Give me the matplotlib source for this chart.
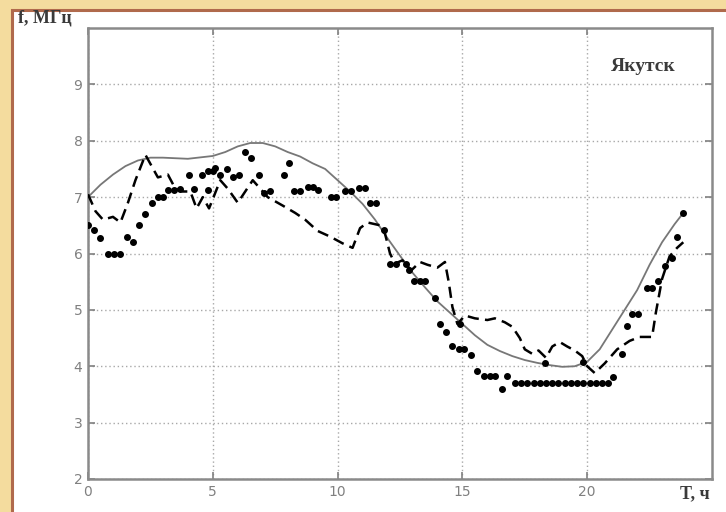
import matplotlib
matplotlib.use("Agg")
import matplotlib.pyplot as plt
from matplotlib.patches import Rectangle

# --- модельная кривая (сплошная) ---
model_t = [0, 0.5, 1, 1.5, 2, 2.5, 3, 4, 5, 5.5, 6, 6.5, 7, 7.5, 8, 8.5, 9, 9.5,
           10, 10.5, 11, 11.5, 12, 12.5, 13, 13.5, 14, 14.5, 15, 15.5, 16, 16.5,
           17, 17.5, 18, 18.5, 19, 19.5, 20, 20.5, 21, 21.5, 22, 22.5, 23, 23.5, 23.85]
model_f = [7.0, 7.22, 7.4, 7.55, 7.65, 7.7, 7.7, 7.68, 7.73, 7.8, 7.9, 7.96, 7.96,
           7.9, 7.8, 7.72, 7.6, 7.5, 7.3, 7.1, 6.88, 6.6, 6.27, 5.96, 5.66, 5.4,
           5.15, 4.95, 4.75, 4.55, 4.38, 4.27, 4.18, 4.11, 4.06, 4.02, 3.99, 4.0,
           4.08, 4.3, 4.65, 5.0, 5.35, 5.8, 6.2, 6.52, 6.72]

# --- вторая кривая (штриховая) ---
dash_t = [0.0, 0.3, 0.6, 1.0, 1.3, 1.6, 1.9, 2.3, 2.8, 3.2, 3.5, 3.8, 4.1, 4.35,
          4.6, 4.85, 5.3, 5.6, 6.0, 6.6, 7.2, 7.8, 8.3, 8.7, 9.2, 9.7, 10.2, 10.6,
          10.9, 11.2, 11.7, 11.9, 12.1, 12.3, 12.6, 12.95, 13.3, 13.6, 14.0, 14.3,
          14.45, 14.6, 14.8, 15.1, 15.5, 16.0, 16.3, 16.7, 17.0, 17.3, 17.5, 17.8,
          18.05, 18.35, 18.6, 18.9, 19.2, 19.5, 19.8, 20.0, 20.3, 20.7, 21.2, 21.7,
          22.1, 22.6, 22.75, 23.0, 23.3, 23.6, 23.85]
dash_f = [7.05, 6.75, 6.6, 6.65, 6.55, 6.9, 7.3, 7.75, 7.35, 7.4, 7.15, 7.1, 7.1,
          6.8, 7.0, 6.8, 7.3, 7.15, 6.9, 7.3, 7.0, 6.85, 6.72, 6.6, 6.4, 6.3, 6.18,
          6.1, 6.45, 6.55, 6.5, 6.35, 6.0, 5.82, 5.88, 5.7, 5.85, 5.8, 5.75, 5.85,
          5.5, 5.05, 4.75, 4.9, 4.85, 4.82, 4.85, 4.78, 4.7, 4.5, 4.3, 4.22, 4.28,
          4.15, 4.35, 4.43, 4.35, 4.28, 4.18, 4.0, 3.88, 4.05, 4.3, 4.45, 4.52,
          4.52, 4.95, 5.55, 5.95, 6.1, 6.2]

# --- измерения (точки) ---
obs_t = [0.0, 0.25, 0.5, 0.8, 1.05, 1.3, 1.55, 1.8, 2.05, 2.3, 2.55, 2.8, 3.0,
         3.2, 3.45, 3.7, 4.05, 4.25, 4.55, 4.8, 4.8, 5.0, 5.1, 5.3, 5.55, 5.8,
         6.05, 6.3, 6.55, 6.85, 7.05, 7.3, 7.85, 8.05, 8.25, 8.5, 8.8, 9.0, 9.2,
         9.75, 9.95, 10.3, 10.55, 10.85, 11.1, 11.3, 11.55, 11.85, 12.1, 12.35,
         12.75, 12.85, 13.05, 13.3, 13.5, 13.9, 14.1, 14.35, 14.6, 14.85, 14.9,
         15.05, 15.35, 15.6, 15.85, 16.1, 16.3, 16.6, 16.8,
         17.1, 17.35, 17.6, 17.85, 18.1, 18.35, 18.6, 18.85, 19.1, 19.35, 19.6,
         19.85, 20.1, 20.35, 20.6, 20.85, 18.3, 19.85,
         21.05, 21.4, 21.6, 21.8, 22.05, 22.4, 22.6, 22.85, 23.1, 23.4, 23.6, 23.85]
obs_f = [6.5, 6.42, 6.27, 6.0, 6.0, 6.0, 6.3, 6.2, 6.5, 6.7, 6.9, 7.0, 7.0,
         7.12, 7.12, 7.15, 7.4, 7.15, 7.4, 7.12, 7.47, 7.47, 7.52, 7.4, 7.5, 7.36,
         7.4, 7.8, 7.7, 7.4, 7.08, 7.1, 7.4, 7.6, 7.1, 7.1, 7.18, 7.18, 7.12,
         7.0, 7.0, 7.1, 7.1, 7.16, 7.16, 6.9, 6.9, 6.42, 5.82, 5.82,
         5.82, 5.71, 5.52, 5.52, 5.52, 5.21, 4.75, 4.6, 4.36, 4.3, 4.75,
         4.3, 4.2, 3.92, 3.83, 3.83, 3.83, 3.6, 3.83,
         3.7, 3.7, 3.7, 3.7, 3.7, 3.7, 3.7, 3.7, 3.7, 3.7, 3.7,
         3.7, 3.7, 3.7, 3.7, 3.7, 4.06, 4.08,
         3.81, 4.22, 4.72, 4.92, 4.92, 5.39, 5.39, 5.51, 5.78, 5.92, 6.3, 6.72]

x_ticks = [0, 5, 10, 15, 20]
y_ticks = [2, 3, 4, 5, 6, 7, 8, 9]

fig = plt.figure(figsize=(7.26, 5.12), dpi=100, facecolor="#f4dc9e")
# белая подложка с коричневой рамкой (позади осей)
fig.patches.append(Rectangle((11.5 / 726, -0.05), 1.0, 1 - 9.5 / 512 + 0.05,
                             transform=fig.transFigure, facecolor="white",
                             edgecolor="#b06a4c", linewidth=2.2, zorder=-10))

ax = fig.add_axes([88 / 726, 1 - 479 / 512, (712 - 88) / 726, (479 - 28) / 512])
ax.set_facecolor("white")

ax.plot(model_t, model_f, color="#777777", lw=1.3, zorder=3)
ax.plot(dash_t, dash_f, color="black", lw=1.8, dashes=(4.5, 2.5), zorder=4)
ax.plot(obs_t, obs_f, "o", color="black", ms=4.0, zorder=5)

ax.set_xlim(0, 25)
ax.set_ylim(2, 10)
ax.set_xticks(x_ticks)
ax.set_yticks(y_ticks)
ax.grid(True, color="#a8a8a8", linestyle=(0, (1, 2)), lw=1.0)
ax.tick_params(direction="in", length=5, width=1.2, color="#808080",
               top=True, right=True, labelsize=10, labelcolor="#808080", pad=4)
for s in ax.spines.values():
    s.set_color("#8a8a8a")
    s.set_linewidth(1.8)

serif = ["Liberation Serif", "DejaVu Serif"]
fig.text(18 / 726, 1 - 18 / 512, "f, МГц", family=serif, fontsize=13,
         fontweight="bold", color="#3a3a3a", va="center", ha="left")
fig.text(695 / 726, 1 - 494 / 512, "T, ч", family=serif, fontsize=13,
         fontweight="bold", color="#3a3a3a", va="center", ha="center")
ax.text(0.89, 0.915, "Якутск", transform=ax.transAxes, family=serif,
        fontsize=14, fontweight="bold", color="#3a3a3a", ha="center", va="center")

fig.savefig("out.png", dpi=100, facecolor=fig.get_facecolor())
